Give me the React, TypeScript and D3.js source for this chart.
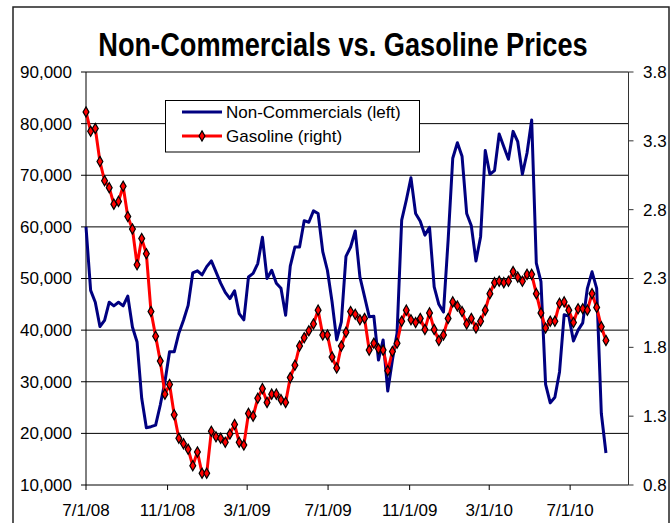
import React from 'react';
import * as d3 from 'd3';

// weekly observations, first one on 7/1/08
const startDate = '7/1/08';

const nonCommercials = [
  60000, 47700, 45400, 40700, 41900, 45400, 44700, 45400, 44700, 46600,
  40600, 37700, 26800, 21100, 21300, 21600, 25500, 30000, 35800, 35800,
  39400, 41900, 44800, 51100, 51500, 50700, 52300, 53400, 51300, 49100,
  47300, 46100, 47600, 43200, 42000, 50300, 51000, 52900, 58000, 50000,
  51600, 49100, 48100, 42900, 52400, 56100, 56100, 61200, 60900, 63100,
  62600, 55200, 51600, 45500, 38100, 41600, 54300, 56100, 59200, 50300,
  46500, 42600, 42700, 34200, 38100, 28200, 34200, 39400, 61300, 65200,
  69500, 62600, 61100, 58400, 59900, 48400, 45000, 43500, 57400, 73300,
  76300, 73700, 62600, 60200, 53400, 58100, 74800, 70200, 70900, 78000,
  75500, 73100, 78500, 76500, 70200, 74300, 80700, 53000, 49400, 29500,
  25900, 27000, 31900, 43000, 42700, 37900, 40000, 41400, 48100, 51300,
  48100, 23900, 16200,
];

const gasoline = [
  3.51, 3.37, 3.39, 3.15, 3.01, 2.96, 2.84, 2.86, 2.97, 2.75,
  2.66, 2.40, 2.59, 2.48, 2.06, 1.88, 1.70, 1.46, 1.53, 1.31,
  1.14, 1.10, 1.06, 0.94, 1.04, 0.885, 0.885, 1.19, 1.15, 1.14,
  1.11, 1.17, 1.24, 1.11, 1.09, 1.32, 1.30, 1.43, 1.50, 1.40,
  1.46, 1.46, 1.42, 1.40, 1.58, 1.67, 1.81, 1.87, 1.92, 1.97,
  2.07, 1.89, 1.89, 1.73, 1.65, 1.81, 1.91, 2.06, 2.04, 2.00,
  2.01, 1.78, 1.83, 1.79, 1.78, 1.63, 1.77, 1.83, 1.99, 2.07,
  2.00, 1.98, 2.01, 1.93, 2.05, 1.93, 1.85, 1.89, 2.01, 2.13,
  2.10, 2.06, 1.97, 2.01, 1.94, 1.99, 2.07, 2.19, 2.27, 2.28,
  2.27, 2.28, 2.35, 2.31, 2.28, 2.33, 2.33, 2.19, 2.05, 1.94,
  1.99, 1.99, 2.12, 2.13, 2.07, 1.98, 2.08, 2.08, 2.07, 2.19,
  2.09, 1.95, 1.85,
];

const xTickLabels = ['7/1/08', '11/1/08', '3/1/09', '7/1/09', '11/1/09', '3/1/10', '7/1/10'];
const xDomainLabels = ['7/1/08', '9/27/10'];
const leftTicks = [10000, 20000, 30000, 40000, 50000, 60000, 70000, 80000, 90000];
const rightTicks = [0.8, 1.3, 1.8, 2.3, 2.8, 3.3, 3.8];

const title = 'Non-Commercials vs. Gasoline Prices';
const seriesNames = ['Non-Commercials (left)', 'Gasoline (right)'];

const W = 670;
const H = 523;
const left = 86;
const right = 628.5;
const top = 72;
const bottom = 485;
const font = '"Liberation Sans", Arial, sans-serif';

function App() {
  const parse = d3.timeParse('%m/%d/%y');
  const start = parse(startDate) as Date;
  const dates = nonCommercials.map((_, i) => d3.timeDay.offset(start, i * 7));

  const x = d3.scaleTime()
    .domain(xDomainLabels.map(d => parse(d) as Date))
    .range([left, right]);
  const yL = d3.scaleLinear().domain([10000, 90000]).range([bottom, top]);
  const yR = d3.scaleLinear().domain([0.8, 3.8]).range([bottom, top]);

  const fmtL = d3.format(',');
  const fmtR = d3.format('.1f');

  const blueLine = d3.line<number>()
    .x((_, i) => x(dates[i]))
    .y(d => yL(d));
  const redLine = d3.line<number>()
    .x((_, i) => x(dates[i]))
    .y(d => yR(d));
  const diamond = d3.symbol().type(d3.symbolDiamond).size(30)() as string;

  return (
    <svg width={W} height={H} style={{ position: 'absolute', left: 0, top: 0 }} fontFamily={font}>
      <rect x={0} y={0} width={W} height={H} fill="#fff" />
      {/* chart area border */}
      <rect x={13} y={7} width={656} height={540} fill="none" stroke="#222" strokeWidth={1.5} />

      {/* title is a bit condensed in the original */}
      <g transform="translate(343,55.5) scale(0.8,1)">
        <text x={0} y={0} fontSize={34} fontWeight="bold" textAnchor="middle">{title}</text>
      </g>

      {/* gridlines */}
      {leftTicks.map(t => (
        <line key={t} x1={left} x2={right} y1={yL(t)} y2={yL(t)} stroke="#000" strokeWidth={1} />
      ))}

      {/* left axis */}
      <line x1={left} x2={left} y1={top} y2={bottom} stroke="#000" />
      {leftTicks.map(t => (
        <g key={t}>
          <line x1={left - 5} x2={left} y1={yL(t)} y2={yL(t)} stroke="#000" />
          <text x={72} y={yL(t)} dy="0.35em" fontSize={17} textAnchor="end">{fmtL(t)}</text>
        </g>
      ))}

      {/* right axis */}
      <line x1={right} x2={right} y1={top} y2={bottom} stroke="#333" />
      {rightTicks.map(t => (
        <g key={t}>
          <line x1={right} x2={right + 5} y1={yR(t)} y2={yR(t)} stroke="#333" />
          <text x={643} y={yR(t)} dy="0.35em" fontSize={17}>{fmtR(t)}</text>
        </g>
      ))}

      {/* bottom axis */}
      {xTickLabels.map(l => {
        const d = parse(l) as Date;
        return (
          <g key={l}>
            <line x1={x(d)} x2={x(d)} y1={bottom} y2={bottom + 5} stroke="#000" />
            <text x={x(d)} y={516} fontSize={17} textAnchor="middle">{l}</text>
          </g>
        );
      })}

      <path d={blueLine(nonCommercials) as string} fill="none" stroke="#000080" strokeWidth={3} strokeLinejoin="round" />
      <path d={redLine(gasoline) as string} fill="none" stroke="#ff0000" strokeWidth={3} strokeLinejoin="round" />
      {gasoline.map((v, i) => (
        <path key={i} d={diamond} transform={`translate(${x(dates[i])},${yR(v)})`}
          fill="#ff0000" stroke="#000" strokeWidth={1.2} />
      ))}

      {/* legend */}
      <rect x={165.5} y={100.5} width={254} height={51.5} fill="#fff" stroke="#000" strokeWidth={1} />
      <line x1={182} x2={222} y1={112} y2={112} stroke="#000080" strokeWidth={3} />
      <text x={226} y={117.5} fontSize={17}>{seriesNames[0]}</text>
      <line x1={182} x2={222} y1={136} y2={136} stroke="#ff0000" strokeWidth={3} />
      <path d={diamond} transform="translate(202,136)" fill="#ff0000" stroke="#000" strokeWidth={1.2} />
      <text x={226} y={141.5} fontSize={17}>{seriesNames[1]}</text>
    </svg>
  );
}

export default App;
